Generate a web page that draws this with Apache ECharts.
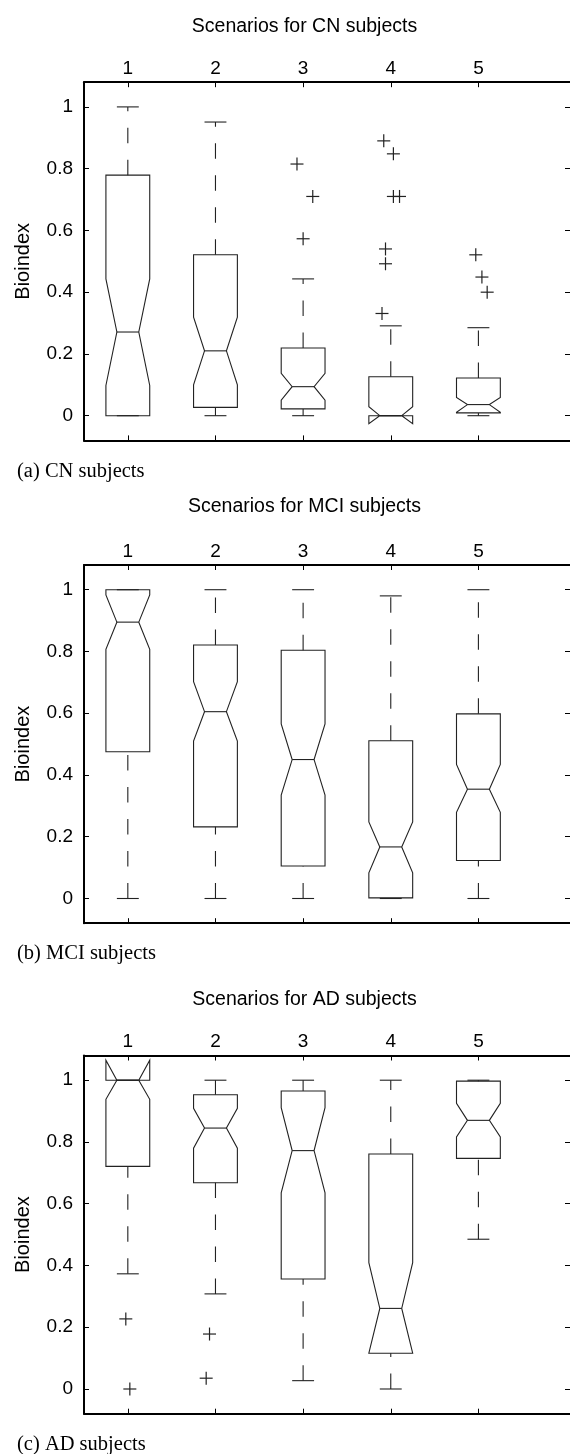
<!DOCTYPE html>
<html>
<head>
<meta charset="utf-8">
<script src="https://cdn.jsdelivr.net/npm/echarts@6/dist/echarts.min.js"></script>
<style>
  html, body { margin: 0; padding: 0; background: #fff; }
  #chart { width: 570px; height: 1454px; }
</style>
</head>
<body>
<div id="chart"></div>
<script>
// Notched boxplots of the Bioindex, one panel per subject group.
// Each box row: [whisker low, q1, median, q3, whisker high, notch low, notch high]
const scenarios = [1, 2, 3, 4, 5];
const yTicks = [0, 0.2, 0.4, 0.6, 0.8, 1];

const cnBoxes = [
  [0, 0, 0.271, 0.779, 1.0, 0.098, 0.443],
  [0, 0.027, 0.210, 0.521, 0.951, 0.100, 0.319],
  [0, 0.022, 0.094, 0.219, 0.443, 0.050, 0.137],
  [0, 0, 0, 0.126, 0.291, -0.026, 0.029],
  [0, 0.009, 0.036, 0.122, 0.285, 0.011, 0.059],
];
// outliers: [scenario position (with jitter), value]
const cnOutliers = [
  [2.93, 0.815], [3.11, 0.71], [3.0, 0.573],
  [3.92, 0.89], [4.03, 0.848], [4.03, 0.71], [4.10, 0.71],
  [3.94, 0.54], [3.94, 0.492], [3.90, 0.331],
  [4.97, 0.521], [5.04, 0.449], [5.10, 0.40],
];

const mciBoxes = [
  [0, 0.475, 0.895, 1.0, 1.0, 0.807, 0.983],
  [0, 0.232, 0.605, 0.821, 1.0, 0.510, 0.702],
  [0, 0.105, 0.450, 0.804, 1.0, 0.335, 0.565],
  [0, 0.002, 0.167, 0.511, 0.980, 0.083, 0.248],
  [0, 0.123, 0.354, 0.598, 1.0, 0.279, 0.434],
];
const mciOutliers = [];

const adBoxes = [
  [0.373, 0.721, 1.0, 1.0, 1.0, 0.938, 1.065],
  [0.308, 0.668, 0.845, 0.953, 1.0, 0.780, 0.909],
  [0.027, 0.356, 0.772, 0.965, 1.0, 0.635, 0.911],
  [0, 0.116, 0.261, 0.761, 1.0, 0.116, 0.409],
  [0.485, 0.747, 0.870, 0.997, 1.0, 0.816, 0.925],
];
const adOutliers = [
  [0.977, 0.227], [1.023, 0.0],
  [1.932, 0.178], [1.894, 0.035],
];

const panels = [
  { title: "Scenarios for CN subjects", caption: "(a) CN subjects", boxes: cnBoxes, outliers: cnOutliers,
    top: 82.2, titleY: 26.5, captionY: 472 },
  { title: "Scenarios for MCI subjects", caption: "(b) MCI subjects", boxes: mciBoxes, outliers: mciOutliers,
    top: 565, titleY: 507, captionY: 954 },
  { title: "Scenarios for AD subjects", caption: "(c) AD subjects", boxes: adBoxes, outliers: adOutliers,
    top: 1055.5, titleY: 999.5, captionY: 1445 },
];

const SANS = "'Liberation Sans', Arial, Helvetica, sans-serif";
const SERIF = "'Liberation Serif', 'Times New Roman', serif";
const INK = "#222";
const BOX_HALF = 0.25;   // half box width, in scenario units
const PLOT_H = 358.2;

const chart = echarts.init(document.getElementById("chart"), null, { renderer: "canvas" });

function renderBox(params, api) {
  const x = api.value(0);
  const lo = api.value(1), q1 = api.value(2), med = api.value(3), q3 = api.value(4),
        hi = api.value(5), nlo = api.value(6), nhi = api.value(7);
  const c = api.coord([x, 0])[0];
  const half = api.size([BOX_HALF, 0])[0];
  const L = c - half, R = c + half, l = c - half / 2, r = c + half / 2;
  const y = (v) => api.coord([x, v])[1];
  const solid = { stroke: INK, lineWidth: 1.1, fill: null };
  const dashed = { stroke: INK, lineWidth: 1.1, lineDash: [15.5, 16.5] };
  return {
    type: "group",
    children: [
      { type: "polygon", shape: { points: [
          [L, y(q1)], [L, y(nlo)], [l, y(med)], [L, y(nhi)], [L, y(q3)],
          [R, y(q3)], [R, y(nhi)], [r, y(med)], [R, y(nlo)], [R, y(q1)],
        ] }, style: solid },
      { type: "line", shape: { x1: l, y1: y(med), x2: r, y2: y(med) }, style: solid },
      // whiskers are drawn upward, so the dash pattern starts at the lower end
      { type: "line", shape: { x1: c, y1: y(lo), x2: c, y2: y(q1) }, style: dashed },
      { type: "line", shape: { x1: c, y1: y(q3), x2: c, y2: y(hi) }, style: dashed },
      { type: "line", shape: { x1: l, y1: y(lo), x2: r, y2: y(lo) }, style: solid },
      { type: "line", shape: { x1: l, y1: y(hi), x2: r, y2: y(hi) }, style: solid },
    ],
  };
}

function renderPlus(params, api) {
  const p = api.coord([api.value(0), api.value(1)]);
  const s = 6.5;
  const st = { stroke: INK, lineWidth: 1.2 };
  return {
    type: "group",
    children: [
      { type: "line", shape: { x1: p[0] - s, y1: p[1], x2: p[0] + s, y2: p[1] }, style: st },
      { type: "line", shape: { x1: p[0], y1: p[1] - s, x2: p[0], y2: p[1] + s }, style: st },
    ],
  };
}

const grid = [], xAxis = [], yAxis = [], series = [], graphic = [];
const axisLine = { show: true, onZero: false, lineStyle: { color: "#000", width: 2 } };
const tickStyle = { show: true, inside: true, length: 5, lineStyle: { color: "#000", width: 1 } };

panels.forEach((p, i) => {
  grid.push({ left: 84, width: 488, top: p.top, height: PLOT_H });
  const xBase = { type: "value", gridIndex: i, min: 0.5, max: 6.045, splitLine: { show: false },
                  axisLine: axisLine, axisTick: Object.assign({ customValues: scenarios }, tickStyle) };
  xAxis.push(Object.assign({}, xBase, { position: "top",
    axisLabel: { customValues: scenarios, margin: 4, fontSize: 19, fontFamily: SANS, color: "#000" } }));
  xAxis.push(Object.assign({}, xBase, { position: "bottom", axisLabel: { show: false } }));

  const yBase = { type: "value", gridIndex: i, min: -0.08, max: 1.08, splitLine: { show: false },
                  axisLine: axisLine, axisTick: Object.assign({ customValues: yTicks }, tickStyle) };
  yAxis.push(Object.assign({}, yBase, { position: "left",
    name: "Bioindex", nameLocation: "middle", nameGap: 51,
    nameTextStyle: { fontSize: 20, fontFamily: SANS, color: "#000" },
    axisLabel: { customValues: yTicks, margin: 11, fontSize: 19, fontFamily: SANS, color: "#000" } }));
  // right border falls just outside the picture: only its inward ticks show
  yAxis.push(Object.assign({}, yBase, { position: "right", axisLine: { show: false },
    axisLabel: { show: false } }));

  series.push({
    type: "custom", xAxisIndex: 2 * i, yAxisIndex: 2 * i,
    renderItem: renderBox, silent: true,
    data: p.boxes.map((b, k) => [scenarios[k]].concat(b)),
  });
  series.push({
    type: "custom", xAxisIndex: 2 * i, yAxisIndex: 2 * i,
    renderItem: renderPlus, silent: true,
    data: p.outliers,
  });

  graphic.push({ type: "text", x: 304.5, y: p.titleY,
    style: { text: p.title, font: "19.5px " + SANS, fill: "#000", align: "center", verticalAlign: "middle" } });
  graphic.push({ type: "text", x: 17, y: p.captionY,
    style: { text: p.caption, font: "20.5px " + SERIF, fill: "#000", align: "left", verticalAlign: "middle" } });
});

chart.setOption({
  animation: false,
  backgroundColor: "#fff",
  grid: grid,
  xAxis: xAxis,
  yAxis: yAxis,
  series: series,
  graphic: graphic,
});
</script>
</body>
</html>
